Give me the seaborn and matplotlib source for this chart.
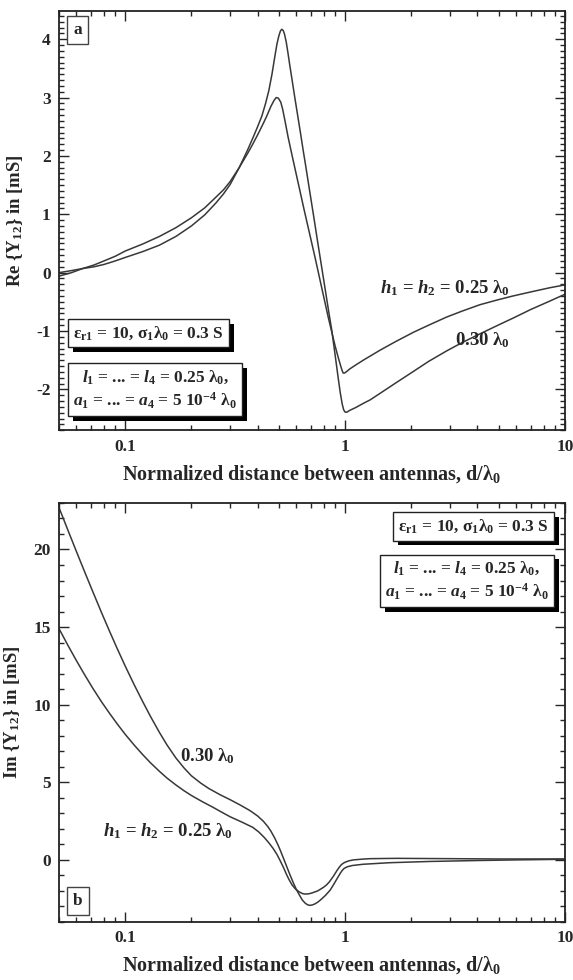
import numpy as np
import matplotlib as mpl
import matplotlib.pyplot as plt
import matplotlib.patheffects as pe
from matplotlib.ticker import FixedLocator, FixedFormatter, MultipleLocator, NullFormatter
import seaborn as sns

# Re{Y12} curves (upper panel)
re_x_025 = [0.05, 0.057, 0.064, 0.072, 0.08, 0.09, 0.1, 0.12, 0.143, 0.17, 0.2, 0.23, 0.258,
            0.28, 0.3, 0.33, 0.36, 0.38, 0.40, 0.42, 0.44, 0.46, 0.475, 0.486, 0.497, 0.51,
            0.52, 0.533, 0.55, 0.57, 0.6, 0.625, 0.65, 0.675, 0.7, 0.73, 0.75, 0.8, 0.84,
            0.87, 0.9, 0.93, 0.955, 0.97, 0.98, 0.995, 1.02, 1.05, 1.12, 1.21, 1.3, 1.44, 1.7,
            2.05, 2.4, 2.9, 3.4, 4.1, 4.9, 5.8, 7.0, 8.5, 10]
re_y_025 = [-0.06, 0.0, 0.07, 0.13, 0.2, 0.28, 0.37, 0.49, 0.62, 0.77, 0.94, 1.11, 1.29,
            1.42, 1.56, 1.80, 2.04, 2.2, 2.36, 2.52, 2.68, 2.85, 2.95, 3.0, 2.99, 2.92,
            2.8, 2.6, 2.33, 2.06, 1.68, 1.38, 1.09, 0.82, 0.56, 0.26, 0.06, -0.42, -0.78,
            -1.02, -1.25, -1.45, -1.6, -1.68, -1.72, -1.72, -1.69, -1.65, -1.58, -1.50, -1.43,
            -1.33, -1.18, -1.02, -0.9, -0.76, -0.66, -0.55, -0.47, -0.4, -0.33, -0.26, -0.21]
re_x_030 = [0.05, 0.057, 0.064, 0.072, 0.08, 0.09, 0.1, 0.12, 0.143, 0.17, 0.2, 0.23, 0.258,
            0.28, 0.3, 0.33, 0.36, 0.38, 0.40, 0.418, 0.435, 0.45, 0.465, 0.48, 0.49, 0.5,
            0.508, 0.515, 0.523, 0.53, 0.54, 0.55, 0.56, 0.573, 0.59, 0.61, 0.63, 0.645, 0.66,
            0.68, 0.7, 0.72, 0.745, 0.77, 0.795, 0.82, 0.845, 0.87, 0.9, 0.93, 0.95, 0.97,
            0.985, 1.0, 1.02, 1.05, 1.12, 1.21, 1.3, 1.44, 1.7, 2.05, 2.4, 2.9, 3.4, 4.1, 4.9,
            5.8, 7.0, 8.5, 10]
re_y_030 = [0.0, 0.035, 0.07, 0.1, 0.14, 0.2, 0.26, 0.36, 0.47, 0.62, 0.80, 0.99, 1.19,
            1.35, 1.51, 1.8, 2.1, 2.3, 2.5, 2.68, 2.9, 3.12, 3.4, 3.72, 3.92, 4.06,
            4.14, 4.17, 4.15, 4.09, 3.95, 3.76, 3.56, 3.32, 3.01, 2.67, 2.34, 2.09, 1.86,
            1.55, 1.25, 0.96, 0.6, 0.26, -0.07, -0.39, -0.7, -0.99, -1.4, -1.8, -2.05, -2.25,
            -2.35, -2.39, -2.39, -2.36, -2.31, -2.24, -2.18, -2.07, -1.89, -1.69, -1.52, -1.34,
            -1.2, -1.05, -0.91, -0.78, -0.63, -0.49, -0.37]

# Im{Y12} curves (lower panel)
im_x_025 = [0.05, 0.055, 0.06, 0.065, 0.071, 0.078, 0.085, 0.092, 0.1, 0.11, 0.12, 0.13,
            0.143, 0.155, 0.17, 0.185, 0.2, 0.225, 0.25, 0.275, 0.3, 0.34, 0.38, 0.405, 0.43,
            0.45, 0.47, 0.49, 0.507, 0.525, 0.54, 0.555, 0.573, 0.595, 0.62, 0.64, 0.658,
            0.68, 0.7, 0.75, 0.797, 0.825, 0.85, 0.885, 0.917, 0.94, 0.96, 0.98, 1.0, 1.04,
            1.09, 1.2, 1.3, 1.72, 3.0, 5.0, 10]
im_y_025 = [14.9, 13.8, 12.84, 11.99, 11.09, 10.19, 9.43, 8.76, 8.09, 7.39, 6.79, 6.27,
            5.71, 5.27, 4.83, 4.46, 4.15, 3.74, 3.4, 3.07, 2.78, 2.43, 2.1, 1.8, 1.43,
            1.1, 0.75, 0.35, -0.06, -0.5, -0.9, -1.25, -1.6, -1.88, -2.07, -2.17, -2.2,
            -2.19, -2.15, -2.0, -1.77, -1.6, -1.4, -1.05, -0.7, -0.48, -0.32, -0.22, -0.15, -0.06,
            0.0, 0.05, 0.08, 0.1, 0.08, 0.06, 0.06]
im_x_030 = [0.05, 0.055, 0.06, 0.065, 0.071, 0.078, 0.085, 0.092, 0.1, 0.11, 0.12, 0.13,
            0.143, 0.155, 0.17, 0.185, 0.2, 0.22, 0.24, 0.27, 0.3, 0.335, 0.37, 0.4, 0.425,
            0.445, 0.46, 0.48, 0.495, 0.507, 0.52, 0.54, 0.56, 0.582, 0.6, 0.62, 0.64, 0.66,
            0.677, 0.693, 0.71, 0.73, 0.755, 0.78, 0.815, 0.855, 0.89, 0.92, 0.949, 0.97,
            0.99, 1.02, 1.08, 1.21, 1.6, 2.43, 4.0, 6.0, 10]
im_y_030 = [22.7, 21.21, 19.87, 18.65, 17.33, 15.94, 14.71, 13.61, 12.49, 11.27, 10.21, 9.27,
            8.22, 7.4, 6.57, 5.93, 5.42, 4.96, 4.6, 4.2, 3.88, 3.52, 3.17, 2.83, 2.49,
            2.15, 1.85, 1.37, 0.97, 0.63, 0.24, -0.35, -0.92, -1.49, -1.9, -2.27, -2.6, -2.8,
            -2.9, -2.93, -2.9, -2.83, -2.7, -2.53, -2.28, -1.95, -1.55, -1.2, -0.88, -0.68,
            -0.55, -0.45, -0.36, -0.28, -0.18, -0.1, -0.04, 0.0, 0.04]

x_ticks = [0.1, 1, 10]
x_tick_labels = ['0.1', '1', '10']

LINE = '#383838'

sns.set_style('ticks')
plt.rcParams['font.family'] = ['Liberation Serif', 'DejaVu Serif']
plt.rcParams['font.weight'] = 'bold'
plt.rcParams['axes.unicode_minus'] = False
plt.rcParams['mathtext.fontset'] = 'custom'
plt.rcParams['mathtext.rm'] = 'Liberation Serif:bold'
plt.rcParams['mathtext.it'] = 'Liberation Serif:italic:bold'
plt.rcParams['mathtext.bf'] = 'Liberation Serif:bold'
plt.rcParams['mathtext.default'] = 'rm'

fig = plt.figure(figsize=(5.73, 9.8), dpi=100)
ax1 = fig.add_axes([0.103, 0.561, 0.883, 0.4276])
ax2 = fig.add_axes([0.103, 0.0592, 0.883, 0.4276])

sns.lineplot(x=re_x_025, y=re_y_025, ax=ax1, color=LINE, lw=1.1)
sns.lineplot(x=re_x_030, y=re_y_030, ax=ax1, color=LINE, lw=1.1)
sns.lineplot(x=im_x_025, y=im_y_025, ax=ax2, color=LINE, lw=1.1)
sns.lineplot(x=im_x_030, y=im_y_030, ax=ax2, color=LINE, lw=1.1)


def style_axes(ax, ylim, ymajor, yminor, ylabel):
    ax.set_xscale('log')
    ax.set_xlim(0.05, 10)
    ax.set_ylim(*ylim)
    ax.xaxis.set_major_locator(FixedLocator(x_ticks))
    ax.xaxis.set_major_formatter(FixedFormatter(x_tick_labels))
    ax.xaxis.set_minor_locator(FixedLocator([m * 10.0 ** e for e in (-2, -1, 0)
                                             for m in range(2, 10)]))
    ax.xaxis.set_minor_formatter(NullFormatter())
    ax.yaxis.set_major_locator(MultipleLocator(ymajor))
    ax.yaxis.set_minor_locator(MultipleLocator(yminor))
    ax.tick_params(which='both', direction='in', top=True, right=True, width=1.0,
                   labelsize=12.5, pad=6)
    ax.tick_params(which='major', length=7)
    ax.tick_params(which='minor', length=3.5)
    for s in ax.spines.values():
        s.set_linewidth(1.3)
        s.set_color('#222222')
    ax.set_xlabel('Normalized distance between antennas, d/λ$_0$', fontsize=14.5,
                  fontweight='bold', labelpad=6)
    ax.set_ylabel(ylabel, fontsize=13.5, fontweight='bold', labelpad=8)
    for lab in ax.get_xticklabels() + ax.get_yticklabels():
        lab.set_fontweight('bold')


style_axes(ax1, (-2.7, 4.48), 1, 0.1, 'Re {Y$_{12}$} in [mS]')
style_axes(ax2, (-4, 23), 5, 1, 'Im {Y$_{12}$} in [mS]')


def shadow_box(ax, x, y, s, ha, va, size=12.5):
    t = ax.text(x, y, s, transform=ax.transAxes, ha=ha, va=va, fontsize=size,
                fontweight='bold', multialignment='center', linespacing=1.3,
                bbox=dict(boxstyle='square,pad=0.3', fc='white', ec='#222222', lw=1.0))
    t.get_bbox_patch().set_path_effects([
        pe.SimplePatchShadow(offset=(3.5, -3.5), shadow_rgbFace='black', alpha=1.0),
        pe.Normal()])
    return t


def plain_box(ax, x, y, s, va):
    ax.text(x, y, s, transform=ax.transAxes, ha='left', va=va, fontsize=12.5,
            fontweight='bold',
            bbox=dict(boxstyle='square,pad=0.35', fc='white', ec='#444444', lw=1.0))


box1 = 'ε$_{r1}$ = 10, σ$_1$λ$_0$ = 0.3 S'
box2 = ('$\\mathit{l}_1$ = ... = $\\mathit{l}_4$ = 0.25 λ$_0$,\n'
        '$\\mathit{a}_1$ = ... = $\\mathit{a}_4$ = 5 10$^{-4}$ λ$_0$')
lab_025 = '$\\mathit{h}_1$ = $\\mathit{h}_2$ = 0.25 λ$_0$'
lab_030 = '0.30 λ$_0$'

# upper panel annotations
plain_box(ax1, 0.028, 0.975, 'a', 'top')
shadow_box(ax1, 0.028, 0.232, box1, 'left', 'center')
shadow_box(ax1, 0.028, 0.098, box2, 'left', 'center')
ax1.text(2.85, -0.26, lab_025, ha='center', va='center', fontsize=13.5, fontweight='bold')
ax1.text(4.2, -1.16, lab_030, ha='center', va='center', fontsize=13.5, fontweight='bold')

# lower panel annotations
plain_box(ax2, 0.028, 0.03, 'b', 'bottom')
shadow_box(ax2, 0.968, 0.944, box1, 'right', 'center')
shadow_box(ax2, 0.968, 0.814, box2, 'right', 'center')
ax2.text(0.157, 1.86, lab_025, ha='center', va='center', fontsize=13.5, fontweight='bold')
ax2.text(0.236, 6.67, lab_030, ha='center', va='center', fontsize=13.5, fontweight='bold')

fig.savefig('out.png', dpi=100, facecolor='white')
